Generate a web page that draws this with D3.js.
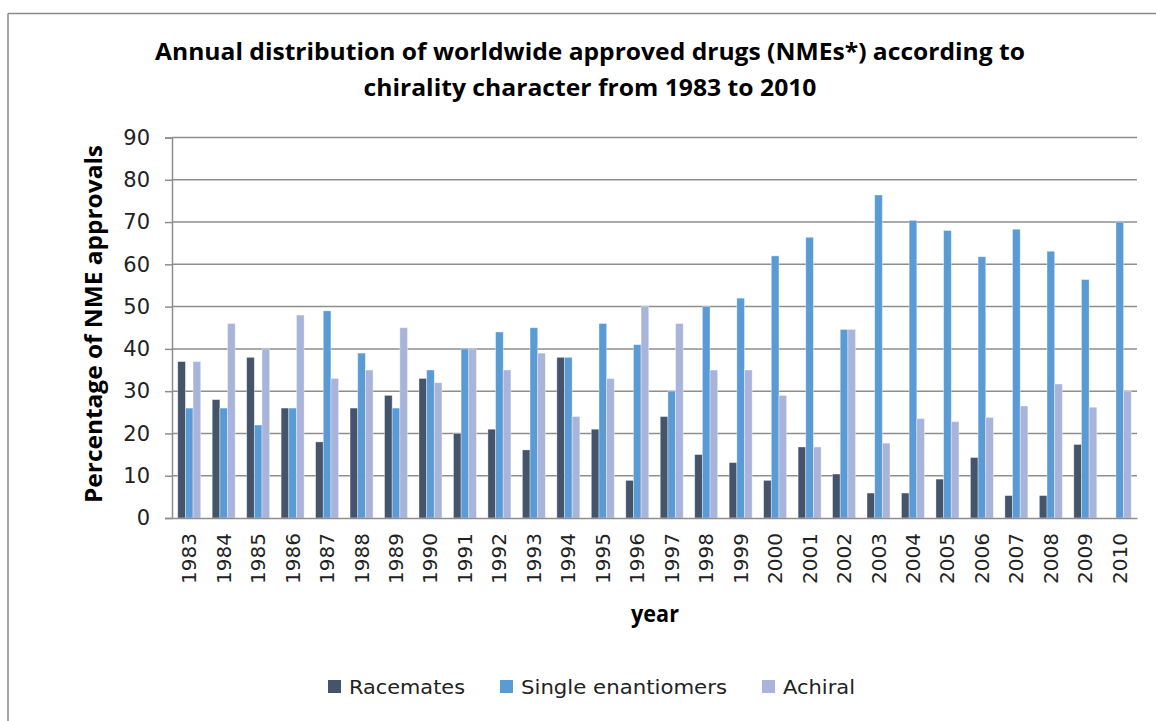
<!DOCTYPE html>
<html>
<head>
<meta charset="utf-8">
<script src="https://cdn.jsdelivr.net/npm/d3@7"></script>
<style>
  html, body { margin: 0; padding: 0; background: #fff; }
  svg { display: block; }
</style>
</head>
<body>
<svg id="chart" width="1156" height="721"></svg>
<script>
// Years on the category axis
const years = [1983, 1984, 1985, 1986, 1987, 1988, 1989, 1990, 1991, 1992,
  1993, 1994, 1995, 1996, 1997, 1998, 1999, 2000, 2001, 2002,
  2003, 2004, 2005, 2006, 2007, 2008, 2009, 2010];

// Share of NME approvals per year (%)
const racemates = [37, 28, 38, 26, 18, 26, 29, 33, 20, 21,
  16.1, 38, 21, 8.9, 24, 15, 13.1, 8.9, 16.8, 10.4,
  5.9, 5.9, 9.2, 14.3, 5.3, 5.3, 17.4, 0];
const singleEnantiomers = [26, 26, 22, 26, 49, 39, 26, 35, 40, 44,
  45, 38, 46, 41, 30, 50, 52, 62, 66.4, 44.6,
  76.4, 70.4, 68, 61.8, 68.3, 63.1, 56.4, 70];
const achiral = [37, 46, 40, 48, 33, 35, 45, 32, 40, 35,
  39, 24, 33, 50, 46, 35, 35, 29, 16.8, 44.6,
  17.7, 23.5, 22.8, 23.8, 26.5, 31.7, 26.2, 30];

const seriesNames = ["Racemates", "Single enantiomers", "Achiral"];
const seriesColors = ["#44546a", "#5b9bd5", "#a9b4da"];
const yTicks = [0, 10, 20, 30, 40, 50, 60, 70, 80, 90];

const seriesValues = [racemates, singleEnantiomers, achiral];
const rows = years.map((y, i) => ({
  year: y,
  values: seriesNames.map((name, s) => ({ name, value: seriesValues[s][i] }))
}));

const svg = d3.select("#chart");
const labelFont = "'DejaVu Sans', Verdana, sans-serif";
const titleFont = "'Liberation Sans Narrow', 'Open Sans', Lato, sans-serif";

// chart frame (top and left edges)
svg.append("line").attr("x1", 8).attr("x2", 1156).attr("y1", 13.5).attr("y2", 13.5)
  .attr("stroke", "#8a8a8a").attr("stroke-width", 1.5);
svg.append("line").attr("x1", 8).attr("x2", 8).attr("y1", 13.5).attr("y2", 721)
  .attr("stroke", "#8a8a8a").attr("stroke-width", 1.5);

const plot = { left: 172, right: 1137, top: 137.5, bottom: 518 };

const x = d3.scaleBand()
  .domain(years)
  .range([plot.left, plot.right])
  .paddingInner(1 / 3)
  .paddingOuter(1 / 6);
const xInner = d3.scaleBand()
  .domain(seriesNames)
  .range([0, x.bandwidth()]);
const y = d3.scaleLinear().domain([0, 90]).range([plot.bottom, plot.top]);
const color = d3.scaleOrdinal().domain(seriesNames).range(seriesColors);

// horizontal gridlines
svg.append("g")
  .selectAll("line")
  .data(yTicks.filter(t => t > 0))
  .join("line")
  .attr("x1", plot.left).attr("x2", plot.right)
  .attr("y1", d => y(d)).attr("y2", d => y(d))
  .attr("stroke", "#8e8e8e").attr("stroke-width", 1.5);

// y axis
const yAxis = svg.append("g")
  .attr("transform", `translate(${plot.left},0)`)
  .call(d3.axisLeft(y).tickValues(yTicks).tickSize(7).tickPadding(15));
yAxis.select(".domain").attr("stroke", "#8e8e8e").attr("stroke-width", 1.5);
yAxis.selectAll(".tick line").attr("stroke", "#8e8e8e").attr("stroke-width", 1.5);
yAxis.selectAll(".tick text")
  .attr("font-family", labelFont).attr("font-size", 21).attr("fill", "#222");

// bars
svg.append("g")
  .selectAll("g")
  .data(rows)
  .join("g")
  .attr("transform", d => `translate(${x(d.year)},0)`)
  .selectAll("rect")
  .data(d => d.values)
  .join("rect")
  .attr("x", d => xInner(d.name))
  .attr("width", xInner.bandwidth())
  .attr("y", d => y(d.value))
  .attr("height", d => y(0) - y(d.value))
  .attr("fill", d => color(d.name))
  .attr("stroke", "rgba(255,255,255,0.45)")
  .attr("stroke-width", 0.8);

// x axis
const xAxis = svg.append("g")
  .attr("transform", `translate(0,${plot.bottom})`)
  .call(d3.axisBottom(x).tickSize(0).tickPadding(0));
xAxis.select(".domain").attr("stroke", "#8e8e8e").attr("stroke-width", 1.5);
xAxis.selectAll(".tick text")
  .attr("font-family", labelFont).attr("font-size", 20).attr("fill", "#222")
  .attr("text-anchor", "end")
  .attr("dy", null)
  .attr("transform", "translate(7,15) rotate(-90)");

// title
const titleLines = [
  { text: "Annual distribution of worldwide approved drugs (NMEs*) according to", y: 60, len: 870 },
  { text: "chirality character from 1983 to 2010", y: 96, len: 453 }
];
svg.append("g").selectAll("text")
  .data(titleLines)
  .join("text")
  .attr("x", 590).attr("y", d => d.y)
  .attr("text-anchor", "middle")
  .attr("font-family", titleFont).attr("font-weight", "bold").attr("font-size", 24)
  .attr("textLength", d => d.len).attr("lengthAdjust", "spacingAndGlyphs")
  .attr("fill", "#000")
  .text(d => d.text);

// axis titles
svg.append("text")
  .attr("transform", "translate(102,324) rotate(-90)")
  .attr("text-anchor", "middle")
  .attr("font-family", titleFont).attr("font-weight", "bold").attr("font-size", 24)
  .attr("textLength", 358).attr("lengthAdjust", "spacingAndGlyphs")
  .text("Percentage of NME approvals");

svg.append("text")
  .attr("x", 655).attr("y", 622)
  .attr("text-anchor", "middle")
  .attr("font-family", titleFont).attr("font-weight", "bold").attr("font-size", 23)
  .attr("textLength", 48).attr("lengthAdjust", "spacingAndGlyphs")
  .text("year");

// legend
const legendX = [328, 500, 762];
const legendLen = [116, 206, 72];
const legend = svg.append("g").selectAll("g")
  .data(seriesNames)
  .join("g")
  .attr("transform", (d, i) => `translate(${legendX[i]},687)`);
legend.append("rect")
  .attr("x", 0).attr("y", -7).attr("width", 13).attr("height", 13)
  .attr("fill", d => color(d));
legend.append("text")
  .attr("x", 21).attr("y", 7)
  .attr("font-family", labelFont).attr("font-size", 20).attr("fill", "#222")
  .attr("textLength", (d, i) => legendLen[i]).attr("lengthAdjust", "spacingAndGlyphs")
  .text(d => d);
</script>
</body>
</html>
